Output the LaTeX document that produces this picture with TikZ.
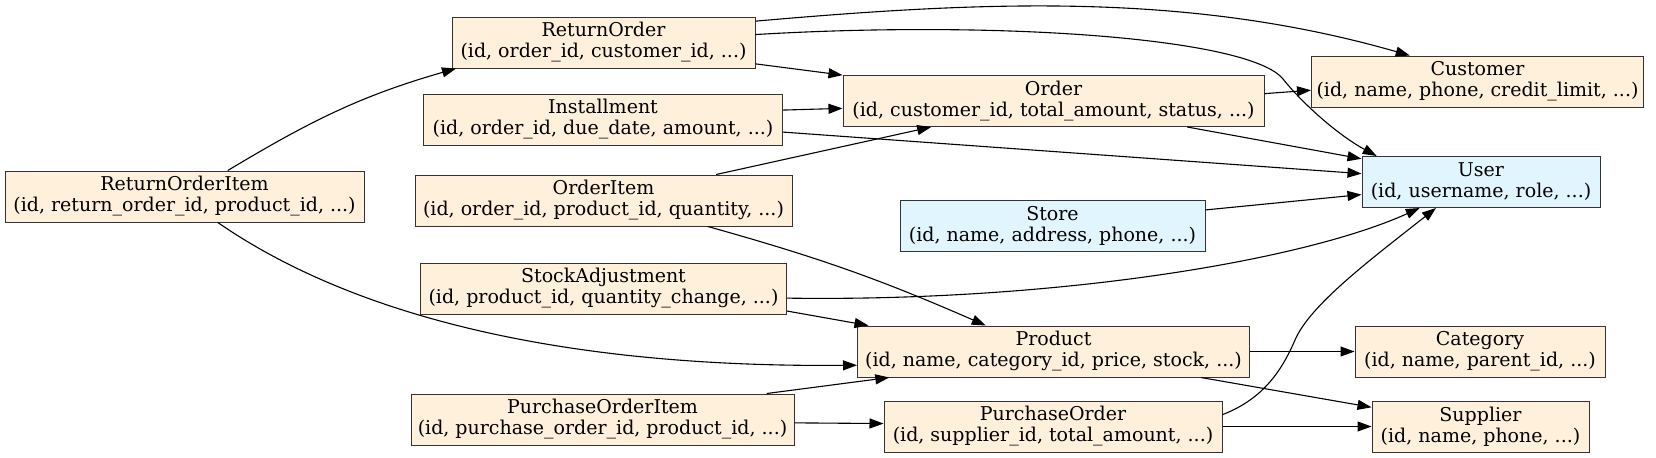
\documentclass[tikz,border=0pt]{standalone}
\usepackage{fontspec}
\setmainfont{DejaVu Serif}
\usepackage{xcolor}
\usetikzlibrary{arrows.meta, positioning}
\definecolor{entityfill}{HTML}{FFF0DC}
\definecolor{userfill}{HTML}{E1F5FE}

\begin{document}
\begin{tikzpicture}[
  x=0.5pt, y=-0.5pt,
  box/.style={draw=black!80, line width=0.5pt, minimum height=25.5pt, inner sep=1pt,
    align=center, font=\fontsize{9.5}{10.5}\selectfont},
  entity/.style={box, fill=entityfill},
  account/.style={box, fill=userfill},
  arrow/.style={-{Triangle[length=7pt, width=5pt]}, line width=0.55pt},
]
\useasboundingbox (0,0) rectangle (1656,457);

%% Left column
\node[entity, minimum width=179.5pt] (roi) at (184.5,196.5) {ReturnOrderItem\\(id, return\_order\_id, product\_id, ...)};
\node[entity, minimum width=151.5pt] (ro) at (603.5,42.5) {ReturnOrder\\(id, order\_id, customer\_id, ...)};
\node[entity, minimum width=179.5pt] (inst) at (603,119.5) {Installment\\(id, order\_id, due\_date, amount, ...)};
\node[entity, minimum width=188.5pt] (oi) at (603.5,200.5) {OrderItem\\(id, order\_id, product\_id, quantity, ...)};
\node[entity, minimum width=183pt] (sa) at (603.5,288.5) {StockAdjustment\\(id, product\_id, quantity\_change, ...)};
\node[entity, minimum width=191.5pt] (poi) at (602.5,419.5) {PurchaseOrderItem\\(id, purchase\_order\_id, product\_id, ...)};

%% Middle column
\node[entity, minimum width=210.5pt] (ord) at (1053.5,101) {Order\\(id, customer\_id, total\_amount, status, ...)};
\node[account, minimum width=152.5pt] (store) at (1052.5,226) {Store\\(id, name, address, phone, ...)};
\node[entity, minimum width=196pt] (prod) at (1053.5,351.5) {Product\\(id, name, category\_id, price, stock, ...)};
\node[entity, minimum width=169pt] (po) at (1053,426.5) {PurchaseOrder\\(id, supplier\_id, total\_amount, ...)};

%% Right column
\node[entity, minimum width=166pt] (cust) at (1477.5,81.5) {Customer\\(id, name, phone, credit\_limit, ...)};
\node[account, minimum width=119pt] (user) at (1481,182) {User\\(id, username, role, ...)};
\node[entity, minimum width=125pt] (cat) at (1480,351.5) {Category\\(id, name, parent\_id, ...)};
\node[entity, minimum width=108.5pt] (sup) at (1480.5,426.5) {Supplier\\(id, name, phone, ...)};

%% References
\draw[arrow] (roi.31) to[out=31, in=196] (ro.190);
\draw[arrow] (roi.-38) .. controls (330,300) and (520,368) .. (prod.184);
\draw[arrow] (ro.-8) -- (ord.173);
\draw[arrow] (ro.8) to[out=5, in=164, looseness=0.9] (cust.159);
\draw[arrow] (ro.3) .. controls (1000,20) and (1250,38) .. (1283,79)
  .. controls (1303,104) and (1338,135) .. (user.166);
\draw[arrow] (inst.3) -- (ord.182);
\draw[arrow] (inst.-4) -- (user.176);
\draw[arrow] (oi.13) -- (ord.192);
\draw[arrow] (oi.-14) to[bend left=4] (prod.159);
\draw[arrow] (ord.2) -- (cust.183);
\draw[arrow] (ord.-11) -- (user.169);
\draw[arrow] (store.6) -- (user.186);
\draw[arrow] (sa.-3) .. controls (1050,302) and (1300,262) .. (user.203);
\draw[arrow] (sa.-7) -- (prod.172);
\draw[arrow] (poi.9) -- (prod.189);
\draw[arrow] (poi.-1) -- (po.179);
\draw[arrow] (prod.east) -- (cat.west);
\draw[arrow] (prod.-10) -- (sup.170);
\draw[arrow] (po.east) -- (sup.west);
\draw[arrow] (po.4) .. controls (1260,400) and (1280,375) .. (1295,340)
  .. controls (1310,305) and (1370,260) .. (user.210);

\end{tikzpicture}
\end{document}
